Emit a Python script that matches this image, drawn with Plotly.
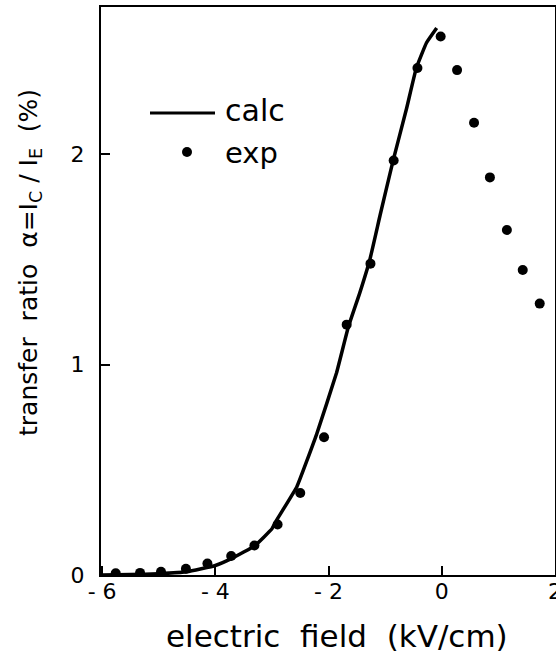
import plotly.graph_objects as go

# experimental points (exp)
exp_x = [-5.76, -5.33, -4.96, -4.52, -4.14, -3.72, -3.31, -2.90, -2.50, -2.08,
         -1.68, -1.26, -0.85, -0.43, -0.02, 0.27, 0.57, 0.85, 1.15, 1.43, 1.73]
exp_y = [0.008, 0.010, 0.015, 0.030, 0.055, 0.090, 0.140, 0.240, 0.390, 0.655,
         1.190, 1.480, 1.970, 2.410, 2.560, 2.400, 2.150, 1.890, 1.640, 1.450, 1.290]

# calculated curve (calc)
calc_x = [-6.0, -5.5, -5.0, -4.5, -4.0, -3.7, -3.3, -3.0, -2.92, -2.56, -2.21,
          -1.86, -1.65, -1.45, -1.27, -1.09, -0.86, -0.62, -0.45, -0.27, -0.09]
calc_y = [0.0, 0.002, 0.006, 0.015, 0.045, 0.08, 0.14, 0.22, 0.26, 0.42, 0.67,
          0.96, 1.18, 1.34, 1.50, 1.71, 1.97, 2.22, 2.41, 2.53, 2.60]

x_tickvals = [-6, -4, -2, 0, 2]
x_ticktext = ["- 6", "- 4", "- 2", "0", "2"]
y_tickvals = [0, 1, 2]
y_ticktext = ["0", "1", "2"]

FONT = "DejaVu Sans"

fig = go.Figure()
fig.add_trace(go.Scatter(x=calc_x, y=calc_y, mode="lines",
                         line=dict(color="black", width=3.5, shape="spline", smoothing=0.3),
                         name="calc"))
fig.add_trace(go.Scatter(x=exp_x, y=exp_y, mode="markers",
                         marker=dict(color="black", size=10),
                         name="exp"))

# plot area in px: x 101..555, y 7..575
def px_x(p):
    return (p - 101) / 454.0

def px_y(p):
    return (575 - p) / 568.0

shapes = [
    dict(type="line", xref="paper", yref="paper",
         x0=px_x(150), x1=px_x(215), y0=px_y(113), y1=px_y(113),
         line=dict(color="black", width=3)),
    dict(type="circle", xref="paper", yref="paper",
         x0=px_x(182), x1=px_x(192), y0=px_y(157), y1=px_y(147),
         fillcolor="black", line=dict(color="black", width=0)),
]

annotations = [
    dict(text="calc", xref="paper", yref="paper", x=px_x(223), y=px_y(110),
         xanchor="left", yanchor="middle", showarrow=False,
         font=dict(family=FONT, size=30, color="black")),
    dict(text="exp", xref="paper", yref="paper", x=px_x(223), y=px_y(153),
         xanchor="left", yanchor="middle", showarrow=False,
         font=dict(family=FONT, size=29, color="black")),
    dict(text="electric  field  (kV/cm)", xref="paper", yref="paper",
         x=px_x(337), y=px_y(636), xanchor="center", yanchor="middle",
         showarrow=False, font=dict(family=FONT, size=31, color="black")),
    dict(text="transfer  ratio  \u03b1=I<sub>C</sub> / I<sub>E</sub>  (%)",
         xref="paper", yref="paper", x=px_x(30), y=px_y(263),
         xanchor="center", yanchor="middle", textangle=-90, showarrow=False,
         font=dict(family=FONT, size=25, color="black")),
]

fig.update_layout(
    width=556, height=655,
    margin=dict(l=101, r=1, t=7, b=80, pad=0, autoexpand=False),
    paper_bgcolor="white", plot_bgcolor="white",
    showlegend=False,
    shapes=shapes, annotations=annotations,
    font=dict(family=FONT, size=22, color="black"),
    xaxis=dict(range=[-6.02, 2.0], tickvals=x_tickvals, ticktext=x_ticktext,
               ticks="inside", ticklen=9, tickwidth=2, tickcolor="black",
               showline=True, linecolor="black", linewidth=2, mirror=True,
               showgrid=False, zeroline=False, ticklabelstandoff=-4,
               ticklabeloverflow="allow", automargin=False,
               tickfont=dict(family=FONT, size=22, color="black")),
    yaxis=dict(range=[0, 2.70], tickvals=y_tickvals, ticktext=y_ticktext,
               ticks="inside", ticklen=9, tickwidth=2, tickcolor="black",
               showline=True, linecolor="black", linewidth=2, mirror=True,
               showgrid=False, zeroline=False, ticklabelstandoff=10,
               automargin=False,
               tickfont=dict(family=FONT, size=22, color="black")),
)

fig.write_html("out.html", config={"displayModeBar": False},
               post_script="document.body.style.margin='0';document.body.style.overflow='hidden';")
